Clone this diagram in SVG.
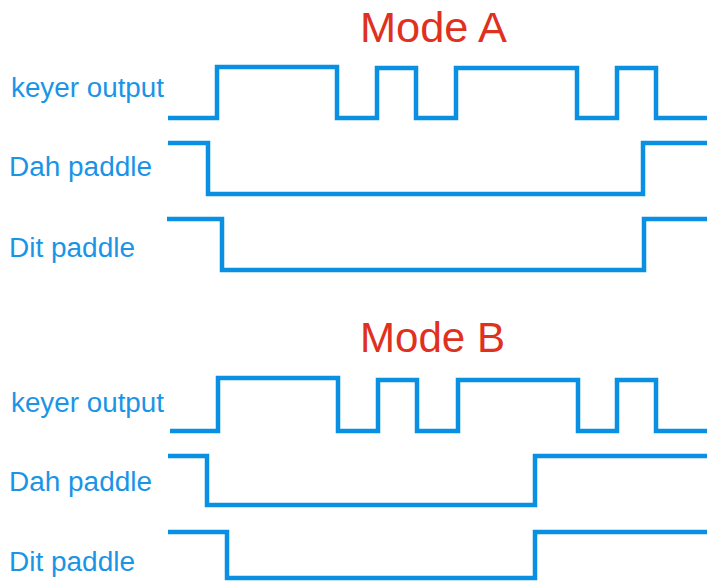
<svg xmlns="http://www.w3.org/2000/svg" width="707" height="581" viewBox="0 0 707 581">
<style>
.sig{fill:none;stroke:#0a90e2;stroke-width:4.5;stroke-linejoin:miter;stroke-linecap:butt}
.lbl{font-family:"Liberation Sans",Arial,sans-serif;font-size:27px;fill:#1a95e6}
.title{font-family:"Liberation Sans",Arial,sans-serif;font-size:42px;fill:#e0301e}
</style>
<rect width="707" height="581" fill="#ffffff"/>
<g id="modeA">
<text class="title" x="360" y="42" textLength="147" lengthAdjust="spacingAndGlyphs">Mode A</text>
<g id="A-keyer">
<text class="lbl" x="11" y="97" textLength="153" lengthAdjust="spacingAndGlyphs">keyer output</text>
</g>
<g id="A-dah">
<text class="lbl" x="9" y="176" textLength="143" lengthAdjust="spacingAndGlyphs">Dah paddle</text>
</g>
<g id="A-dit">
<text class="lbl" x="9" y="257" textLength="126" lengthAdjust="spacingAndGlyphs">Dit paddle</text>
</g>
</g>
<g id="modeB">
<text class="title" x="360" y="352" textLength="145" lengthAdjust="spacingAndGlyphs">Mode B</text>
<g id="B-keyer">
<text class="lbl" x="11" y="412" textLength="153" lengthAdjust="spacingAndGlyphs">keyer output</text>
</g>
<g id="B-dah">
<text class="lbl" x="9" y="491" textLength="143" lengthAdjust="spacingAndGlyphs">Dah paddle</text>
</g>
<g id="B-dit">
<text class="lbl" x="9" y="571" textLength="126" lengthAdjust="spacingAndGlyphs">Dit paddle</text>
</g>
</g>
<g id="connectors">
<polyline class="sig" points="168,118 217,118 217,67 337,67 337,118 377,118 377,68 416,68 416,118 456,118 456,68 577,68 577,118 617,118 617,68 656,68 656,118 707,118"/>
<polyline class="sig" points="168,143 208,143 208,194 643,194 643,143 707,143"/>
<polyline class="sig" points="167,219 222,219 222,270 644,270 644,219 707,219"/>
<polyline class="sig" points="170,431 218,431 218,378 338,378 338,431 378,431 378,380 417,380 417,431 458,431 458,380 578,380 578,431 617,431 617,380 656,380 656,431 707,431"/>
<polyline class="sig" points="168,456 207,456 207,505 535,505 535,456 707,456"/>
<polyline class="sig" points="168,532 227,532 227,578 535,578 535,532 707,532"/>
</g>
</svg>
